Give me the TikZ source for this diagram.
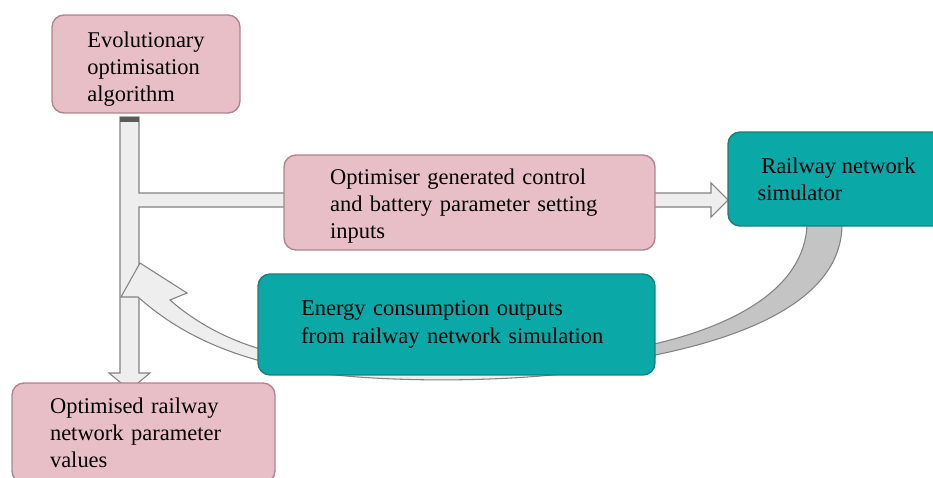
\documentclass[tikz,border=0pt]{standalone}
\usepackage{fontspec}
\setmainfont{Liberation Serif}
\newfontfamily\boxfont{Liberation Serif}

\definecolor{boxpink}{RGB}{232,191,198}
\definecolor{pinkline}{RGB}{178,130,144}
\definecolor{simteal}{RGB}{11,168,168}
\definecolor{tealline}{RGB}{24,126,126}
\definecolor{arrowfill}{RGB}{238,238,238}
\definecolor{arrowline}{RGB}{130,130,130}
\definecolor{backfill}{RGB}{196,196,196}

\tikzset{
  pinkbox/.style={draw=pinkline, fill=boxpink, rounded corners=0.24cm, line width=0.8pt,
    align=left, font=\boxfont\fontsize{12.8}{15.5}\selectfont},
  tealbox/.style={pinkbox, draw=tealline, fill=simteal},
  blockarrow/.style={draw=arrowline, fill=arrowfill, line width=0.6pt}
}

\begin{document}
\begin{tikzpicture}[x=0.02cm, y=-0.02cm]
        \useasboundingbox (0,0) rectangle (933,477);
        % main arrow with branch
        \draw[blockarrow] (120,117) -- (139,117) -- (139,193) -- (286,193) -- (286,207)
            -- (139,207) -- (139,373) -- (150,373) -- (129.5,390) -- (109,373)
            -- (120,373) -- cycle;
        \fill[arrowline!70!black] (120,117) rectangle (139,122);
        % feedback arrow, on the shaft but behind the boxes
        \draw[blockarrow] (138,297) .. controls (175,330) and (215,348) .. (257,360)
            .. controls (330,387) and (560,387) .. (655,357) -- (655,349)
            .. controls (560,373) and (330,373) .. (257,348)
            .. controls (225,338) and (195,322) .. (170,300)
            -- (187,293) -- (140,263) -- (121,297) -- cycle;
        \draw[blockarrow, fill=backfill] (807,224) .. controls (805,290) and (730,328) .. (645,346)
            -- (645,357) .. controls (745,338) and (842,300) .. (842,224) -- cycle;
        % arrow into the simulator
        \draw[blockarrow] (653,193) -- (711,193) -- (711,183) -- (728,200) -- (711,217)
            -- (711,207) -- (653,207) -- cycle;
        % boxes
        \node[pinkbox, minimum width=3.76cm, minimum height=1.96cm] (evo) at (146,64)
            {\rule{0pt}{0.52cm}Evolutionary\\optimisation\\algorithm};
        \node[pinkbox, minimum width=7.42cm, minimum height=1.9cm, text width=5.58cm] (gen) at (469.5,202.5)
            {\rule{0pt}{0.46cm}Optimiser generated control\\and battery parameter setting\\inputs};
        \node[tealbox, minimum width=4.34cm, minimum height=1.88cm] (sim) at (836.5,179)
            {\,Railway network\\simulator};
        \node[tealbox, minimum width=7.94cm, minimum height=2.02cm, text width=6.22cm] (energy) at (456.5,324.5)
            {Energy consumption outputs\\from railway network simulation};
        \node[pinkbox, minimum width=5.26cm, minimum height=2cm, text width=3.74cm] (result) at (143.5,433)
            {Optimised railway\\network parameter\\values};
\end{tikzpicture}
\end{document}
